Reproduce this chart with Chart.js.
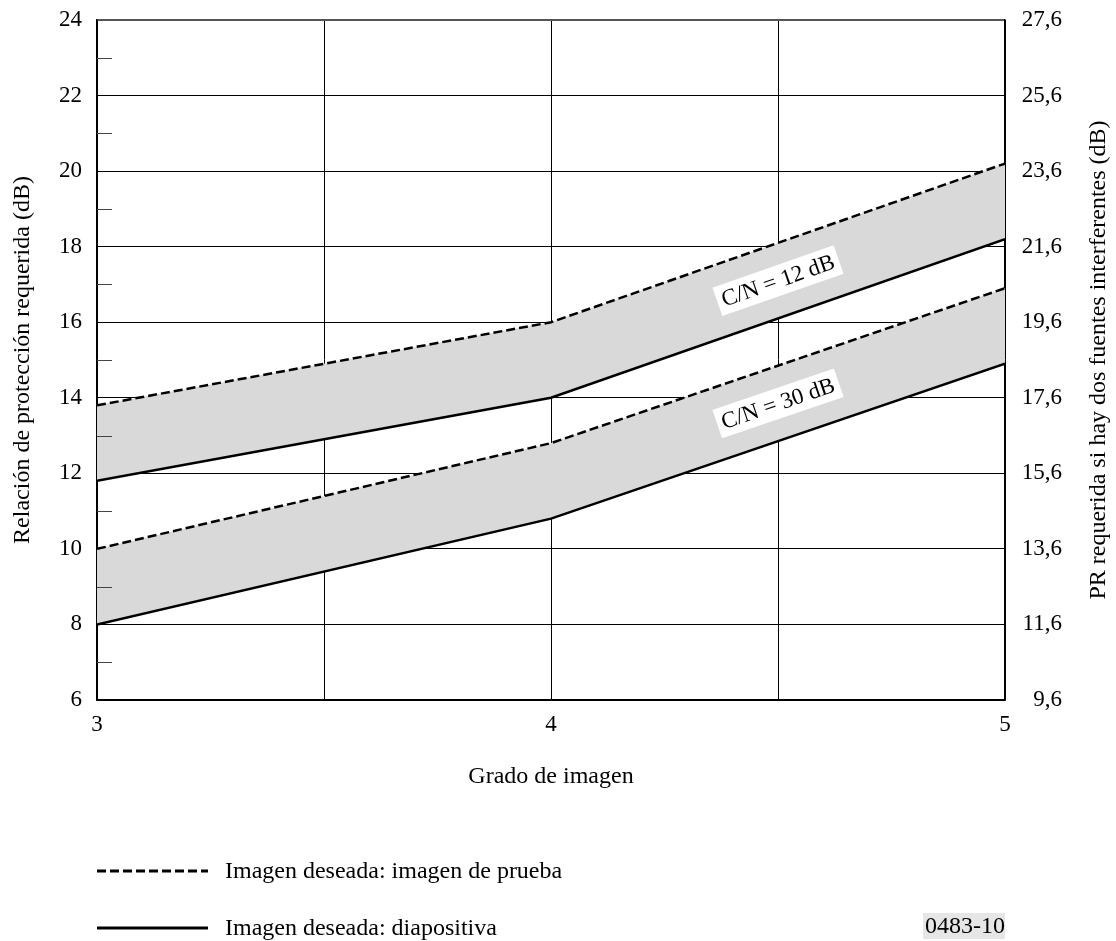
<!DOCTYPE html>
<html>
<head>
<meta charset="utf-8">
<script src="https://cdn.jsdelivr.net/npm/chart.js@4/dist/chart.umd.min.js"></script>
<style>
html,body{margin:0;padding:0;background:#fff;}
#wrap{width:1116px;height:941px;}
</style>
</head>
<body>
<div id="wrap"><canvas id="c" width="1116" height="941"></canvas></div>
<script>
// ---- data ----
const grades = [3, 4, 5];
const cn12Prueba = [13.8, 16.0, 20.2];
const cn12Diapositiva = [11.8, 14.0, 18.2];
const cn30Prueba = [10.0, 12.8, 16.9];
const cn30Diapositiva = [8.0, 10.8, 14.9];

const xGridValues = [3, 3.5, 4, 4.5, 5];
const leftTickValues = [6, 8, 10, 12, 14, 16, 18, 20, 22, 24];
const leftMinorTicks = [7, 9, 11, 13, 15, 17, 19, 21, 23];
const rightTickValues = [9.6, 11.6, 13.6, 15.6, 17.6, 19.6, 21.6, 23.6, 25.6, 27.6];
const bandLabels = ['C/N = 12 dB', 'C/N = 30 dB'];
const legendLabels = ['Imagen deseada: imagen de prueba', 'Imagen deseada: diapositiva'];
const xTitle = 'Grado de imagen';
const yTitle = 'Relación de protección requerida (dB)';
const y2Title = 'PR requerida si hay dos fuentes interferentes (dB)';
const figureCode = '0483-10';

// ---- styles ----
const serif = "'Liberation Serif','Times New Roman',serif";
const tickFont = {family: serif, size: 23};
const textFont = {family: serif, size: 24};
const bandFill = '#d9d9d9';
const dash = [9, 4];

const pts = ys => grades.map((g, i) => ({x: g, y: ys[i]}));

const overlay = {
  id: 'overlay',
  afterDatasetsDraw(chart) {
    const {ctx, scales: {x, y}} = chart;
    ctx.save();
    // minor ticks on left axis
    ctx.strokeStyle = '#444';
    ctx.lineWidth = 1;
    leftMinorTicks.forEach(v => {
      const py = Math.round(y.getPixelForValue(v)) + 0.5;
      ctx.beginPath();
      ctx.moveTo(x.left, py);
      ctx.lineTo(x.left + 15, py);
      ctx.stroke();
    });
    // band labels
    const bands = [[cn12Prueba, cn12Diapositiva], [cn30Prueba, cn30Diapositiva]];
    ctx.font = '23px ' + serif;
    bands.forEach(([a, b], k) => {
      const m4 = (a[1] + b[1]) / 2, m5 = (a[2] + b[2]) / 2;
      const px4 = x.getPixelForValue(grades[1]), py4 = y.getPixelForValue(m4);
      const px5 = x.getPixelForValue(grades[2]), py5 = y.getPixelForValue(m5);
      const ang = Math.atan2(py5 - py4, px5 - px4);
      const cx = (px4 + px5) / 2, cy = (py4 + py5) / 2;
      ctx.save();
      ctx.translate(cx, cy);
      ctx.rotate(ang);
      const w = ctx.measureText(bandLabels[k]).width;
      ctx.fillStyle = '#fff';
      ctx.fillRect(-w / 2 - 5, -15, w + 10, 30);
      ctx.fillStyle = '#000';
      ctx.textAlign = 'center';
      ctx.textBaseline = 'middle';
      ctx.fillText(bandLabels[k], 0, 1);
      ctx.restore();
    });
    ctx.restore();
  },
  afterDraw(chart) {
    const {ctx, chartArea} = chart;
    ctx.save();
    // right axis title (reads bottom to top)
    ctx.font = '24px ' + serif;
    ctx.fillStyle = '#000';
    ctx.textAlign = 'center';
    ctx.textBaseline = 'middle';
    ctx.save();
    ctx.translate(1099, (chartArea.top + chartArea.bottom) / 2);
    ctx.rotate(-Math.PI / 2);
    ctx.fillText(y2Title, 0, 0);
    ctx.restore();
    // legend
    const lx0 = chartArea.left, lx1 = chartArea.left + 111;
    const rows = [871, 928];
    ctx.strokeStyle = '#000';
    ctx.lineWidth = 3;
    rows.forEach((ly, i) => {
      ctx.setLineDash(i === 0 ? dash : []);
      ctx.beginPath();
      ctx.moveTo(lx0, ly);
      ctx.lineTo(lx1, ly);
      ctx.stroke();
      ctx.setLineDash([]);
      ctx.textAlign = 'left';
      ctx.fillText(legendLabels[i], 225, ly + 1);
    });
    // figure code
    const cw = ctx.measureText(figureCode).width;
    ctx.fillStyle = '#e6e6e6';
    ctx.fillRect(chartArea.right - cw - 2, 913, cw + 2, 26);
    ctx.fillStyle = '#000';
    ctx.textAlign = 'right';
    ctx.fillText(figureCode, chartArea.right, 927);
    ctx.restore();
  }
};

new Chart(document.getElementById('c'), {
  type: 'line',
  data: {
    datasets: [
      {label: 'C/N = 12 dB prueba', data: pts(cn12Prueba), borderColor: '#000', borderWidth: 2.5, borderDash: dash, pointRadius: 0, fill: false, tension: 0},
      {label: 'C/N = 12 dB diapositiva', data: pts(cn12Diapositiva), borderColor: '#000', borderWidth: 2.5, pointRadius: 0, fill: '-1', backgroundColor: bandFill, tension: 0},
      {label: 'C/N = 30 dB prueba', data: pts(cn30Prueba), borderColor: '#000', borderWidth: 2.5, borderDash: dash, pointRadius: 0, fill: false, tension: 0},
      {label: 'C/N = 30 dB diapositiva', data: pts(cn30Diapositiva), borderColor: '#000', borderWidth: 2.5, pointRadius: 0, fill: '-1', backgroundColor: bandFill, tension: 0}
    ]
  },
  options: {
    responsive: false,
    animation: false,
    devicePixelRatio: 1,
    layout: {padding: {top: 20, left: 0, right: 54, bottom: 0}},
    plugins: {
      legend: {display: false},
      tooltip: {enabled: false},
      filler: {drawTime: 'beforeDatasetsDraw'}
    },
    scales: {
      x: {
        type: 'linear', position: 'bottom', min: 3, max: 5,
        afterBuildTicks: s => { s.ticks = xGridValues.map(v => ({value: v})); },
        ticks: {autoSkip: false, maxRotation: 0, padding: 11, font: tickFont, color: '#000',
          callback: v => Number.isInteger(v) ? String(v) : ''},
        grid: {color: '#000', lineWidth: 1, drawTicks: false},
        border: {color: '#000', width: 1.5},
        title: {display: true, text: xTitle, font: textFont, color: '#000', padding: {top: 0, bottom: 150}},
        afterFit: s => { s.height = 241; s.paddingLeft = 0; s.paddingRight = 0; }
      },
      y: {
        type: 'linear', position: 'left', min: 6, max: 24,
        afterBuildTicks: s => { s.ticks = leftTickValues.map(v => ({value: v})); },
        ticks: {padding: 15, font: tickFont, color: '#000'},
        grid: {color: c => (c.tick && c.tick.value === 24) ? '#555' : '#000',
               lineWidth: c => (c.tick && c.tick.value === 24) ? 2 : 1, drawTicks: false},
        border: {color: '#000', width: 1.5},
        title: {display: true, text: yTitle, font: textFont, color: '#000', padding: {top: 8, bottom: 0}},
        afterFit: s => { s.width = 97; s.paddingTop = 0; s.paddingBottom = 0; }
      },
      y2: {
        type: 'linear', position: 'right', min: 9.6, max: 27.6,
        afterBuildTicks: s => { s.ticks = rightTickValues.map(v => ({value: v})); },
        ticks: {padding: 15, font: tickFont, color: '#000', crossAlign: 'far',
          callback: v => v.toFixed(1).replace('.', ',')},
        grid: {display: false, drawTicks: false},
        border: {display: true, color: '#000', width: 1.5},
        afterFit: s => { s.width = 57; s.paddingTop = 0; s.paddingBottom = 0; }
      }
    }
  },
  plugins: [overlay]
});
</script>
</body>
</html>
